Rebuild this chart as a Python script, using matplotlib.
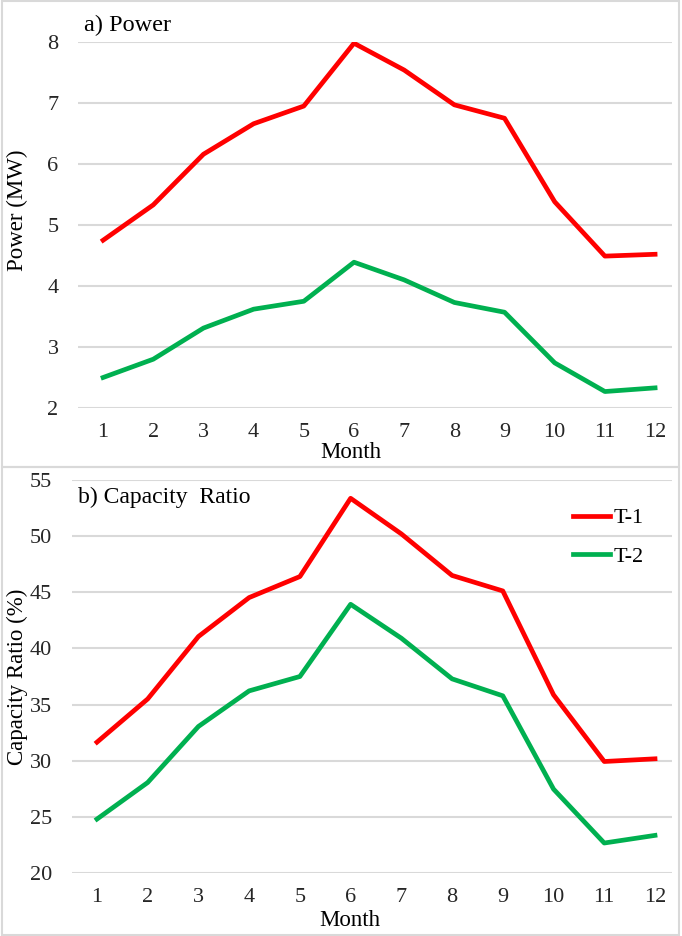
import matplotlib.pyplot as plt
from matplotlib.patches import Rectangle

months = list(range(1, 13))
month_labels = [str(m) for m in months]

# a) Power (MW)
power_t1 = [4.75, 5.33, 6.16, 6.66, 6.95, 7.98, 7.54, 6.97, 6.75, 5.38, 4.49, 4.52]
power_t2 = [2.50, 2.80, 3.31, 3.62, 3.75, 4.39, 4.10, 3.73, 3.57, 2.74, 2.27, 2.33]

# b) Capacity ratio (%)
ratio_t1 = [31.65, 35.5, 41.06, 44.53, 46.4, 53.37, 50.2, 46.5, 45.12, 35.87, 29.93, 30.17]
ratio_t2 = [24.8, 28.06, 33.05, 36.22, 37.5, 43.93, 40.91, 37.29, 35.78, 27.47, 22.67, 23.35]

RED = "#FF0000"
GREEN = "#00B050"
GRID = "#D9D9D9"

plt.rcParams["font.family"] = ["Liberation Serif", "DejaVu Serif"]

W, H = 682, 936
fig = plt.figure(figsize=(W / 100, H / 100), dpi=100)


def px_axes(left, right, top, bottom):
    return fig.add_axes([left / W, 1 - bottom / H, (right - left) / W, (bottom - top) / H])


def style(ax, ylim, yticks, xmax):
    ax.set_xlim(0.5, xmax)
    ax.set_ylim(*ylim)
    ax.set_yticks(yticks)
    ax.set_xticks(months)
    ax.set_xticklabels(month_labels)
    ax.grid(axis="y", color=GRID, linewidth=1.5)
    ax.set_axisbelow(True)
    for s in ax.spines.values():
        s.set_visible(False)
    ax.tick_params(axis="both", length=0, labelsize=16, colors="#262626")
    ax.tick_params(axis="y", pad=14)
    ax.tick_params(axis="x", pad=11)


# panel frames
for y0, y1 in [(1, 467), (467, 935)]:
    fig.add_artist(Rectangle((2 / W, 1 - y1 / H), 677 / W, (y1 - y0) / H,
                             transform=fig.transFigure, fill=False,
                             edgecolor="#D9D9D9", linewidth=1.5))

# a) Power
ax1 = px_axes(78, 672, 42, 408)
ax1.plot(months, power_t1, color=RED, linewidth=3.4, label="T-1")
ax1.plot(months, power_t2, color=GREEN, linewidth=3.4, label="T-2")
style(ax1, (2, 8), range(2, 9), 0.5 + (672 - 78) / 50.18)
ax1.set_xlabel("Month", fontsize=16.5, va="center")
ax1.xaxis.set_label_coords((351 - 78) / 594, (408 - 453) / 366)
ax1.set_ylabel("Power (MW)", fontsize=16.5, va="center")
ax1.yaxis.set_label_coords((17 - 78) / 594, (408 - 210) / 366)
fig.text(84 / W, 1 - 25 / H, "a) Power", fontsize=17.5, va="center", ha="left")

# b) Capacity ratio
ax2 = px_axes(71.6, 672, 480, 873)
ax2.plot(months, ratio_t1, color=RED, linewidth=3.4, label="T-1")
ax2.plot(months, ratio_t2, color=GREEN, linewidth=3.4, label="T-2")
style(ax2, (20, 55), range(20, 56, 5), 0.5 + (672 - 71.6) / 50.73)
ax2.set_xlabel("Month", fontsize=16.5, va="center")
ax2.xaxis.set_label_coords((350 - 71.6) / 600.4, (873 - 920) / 393)
ax2.set_ylabel("Capacity Ratio (%)", fontsize=16.5, va="center")
ax2.yaxis.set_label_coords((17 - 71.6) / 600.4, 0.5)
fig.text(78 / W, 1 - 497 / H, "b) Capacity  Ratio", fontsize=17, va="center", ha="left")
ax2.legend(loc="upper left", bbox_to_anchor=((555 - 71.6) / 600.4, 1 - 10 / 393),
           frameon=False, fontsize=16, handlelength=1.67, handletextpad=0.15,
           labelspacing=0.81, borderaxespad=0.4)

fig.savefig("out.png", dpi=100)
